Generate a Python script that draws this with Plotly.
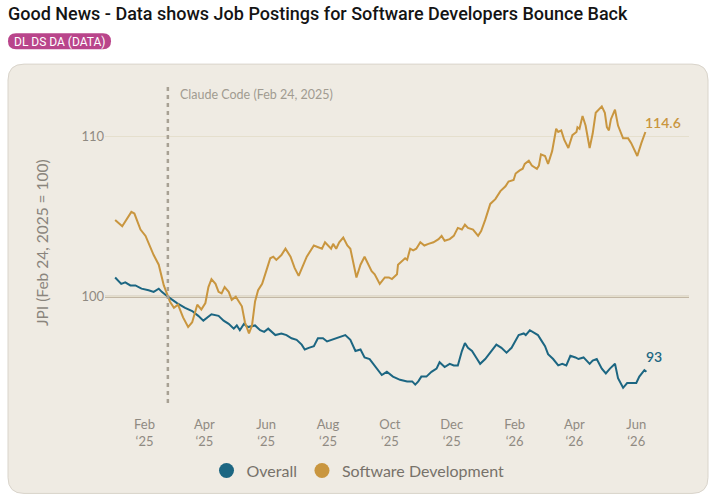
import plotly.graph_objects as go

# --- data (JPI, Feb 24 2025 = 100) ---
sw_dates = [
    "2025-01-03", "2025-01-10", "2025-01-19", "2025-01-22", "2025-01-28", "2025-02-02",
    "2025-02-10", "2025-02-15", "2025-02-20", "2025-02-24", "2025-02-26", "2025-03-02",
    "2025-03-06", "2025-03-11", "2025-03-16", "2025-03-20", "2025-03-25", "2025-03-29",
    "2025-04-02", "2025-04-05", "2025-04-08", "2025-04-12", "2025-04-15", "2025-04-18",
    "2025-04-21", "2025-04-25", "2025-04-28", "2025-05-02", "2025-05-05", "2025-05-08",
    "2025-05-11", "2025-05-15", "2025-05-18", "2025-05-21", "2025-05-24", "2025-05-28",
    "2025-06-02", "2025-06-05", "2025-06-08", "2025-06-11", "2025-06-16", "2025-06-20",
    "2025-06-25", "2025-06-29", "2025-07-03", "2025-07-09", "2025-07-11", "2025-07-18",
    "2025-07-23", "2025-07-26", "2025-07-29", "2025-08-01", "2025-08-04", "2025-08-06",
    "2025-08-09", "2025-08-12", "2025-08-16", "2025-08-20", "2025-08-23", "2025-08-29",
    "2025-09-02", "2025-09-06", "2025-09-10", "2025-09-13", "2025-09-16", "2025-09-21",
    "2025-09-26", "2025-09-30", "2025-10-03", "2025-10-08", "2025-10-09", "2025-10-13",
    "2025-10-16", "2025-10-18", "2025-10-21", "2025-10-24", "2025-10-27", "2025-10-31",
    "2025-11-04", "2025-11-08", "2025-11-13", "2025-11-18", "2025-11-21", "2025-11-24",
    "2025-11-29", "2025-12-03", "2025-12-07", "2025-12-11", "2025-12-14", "2025-12-17",
    "2025-12-22", "2025-12-27", "2025-12-30", "2026-01-03", "2026-01-04", "2026-01-08",
    "2026-01-13", "2026-01-18", "2026-01-23", "2026-01-26", "2026-01-31", "2026-02-02",
    "2026-02-06", "2026-02-09", "2026-02-11", "2026-02-15", "2026-02-18", "2026-02-23",
    "2026-02-25", "2026-02-27", "2026-03-03", "2026-03-06", "2026-03-10", "2026-03-14",
    "2026-03-16", "2026-03-19", "2026-03-22", "2026-03-26", "2026-03-30", "2026-04-03",
    "2026-04-04", "2026-04-06", "2026-04-09", "2026-04-12", "2026-04-16", "2026-04-19",
    "2026-04-22", "2026-04-28", "2026-05-01", "2026-05-03", "2026-05-05", "2026-05-07",
    "2026-05-11", "2026-05-14", "2026-05-19", "2026-05-24", "2026-05-27", "2026-06-02",
    "2026-06-06", "2026-06-10",
]
sw_values = [
    104.8, 104.4, 105.3, 105.2, 104.2, 103.8,
    102.6, 102.0, 100.7, 100.0, 99.7, 99.3,
    99.5, 98.7, 98.1, 98.4, 99.5, 99.2,
    99.6, 100.6, 101.1, 100.8, 100.3, 100.2,
    100.6, 100.3, 99.8, 100.0, 99.7, 99.4,
    98.4, 97.7, 98.2, 99.7, 100.4, 100.8,
    101.8, 102.4, 102.5, 102.3, 102.6, 103.0,
    102.5, 101.8, 101.3, 102.2, 102.5, 103.2,
    103.1, 103.0, 103.4, 103.2, 103.0, 103.3,
    103.0, 103.4, 103.7, 103.2, 103.0, 101.2,
    102.0, 102.5, 102.0, 101.6, 101.4, 100.8,
    101.2, 101.2, 101.1, 101.4, 102.0, 102.2,
    102.4, 102.3, 103.0, 102.9, 103.0, 103.4,
    103.2, 103.3, 103.4, 103.6, 103.8, 103.5,
    103.6, 103.8, 104.3, 104.2, 104.5, 104.3,
    104.2, 103.8, 104.1, 104.8, 105.0, 105.8,
    106.1, 106.6, 106.9, 107.2, 107.3, 107.7,
    107.9, 108.0, 108.3, 108.5, 108.2, 108.0,
    108.2, 108.9, 108.8, 108.3, 109.1, 110.5,
    110.3, 110.4, 109.8, 109.3, 110.1, 110.3,
    110.6, 110.5, 111.3, 110.7, 109.3, 110.2,
    111.5, 111.9, 111.5, 110.6, 110.4, 111.1,
    111.7, 110.7, 109.9, 109.9, 109.6, 108.8,
    109.6, 110.3,
]

all_dates = [
    "2025-01-03", "2025-01-06", "2025-01-09", "2025-01-13", "2025-01-18", "2025-01-23",
    "2025-01-29", "2025-02-05", "2025-02-10", "2025-02-15", "2025-02-18", "2025-02-24",
    "2025-02-26", "2025-03-05", "2025-03-13", "2025-03-20", "2025-03-26", "2025-03-31",
    "2025-04-08", "2025-04-15", "2025-04-20", "2025-04-25", "2025-04-30", "2025-05-03",
    "2025-05-06", "2025-05-10", "2025-05-14", "2025-05-21", "2025-05-26", "2025-05-30",
    "2025-06-03", "2025-06-10", "2025-06-16", "2025-06-21", "2025-06-26", "2025-07-01",
    "2025-07-06", "2025-07-09", "2025-07-13", "2025-07-18", "2025-07-22", "2025-07-27",
    "2025-07-31", "2025-08-05", "2025-08-10", "2025-08-18", "2025-08-23", "2025-08-28",
    "2025-09-02", "2025-09-06", "2025-09-11", "2025-09-16", "2025-09-23", "2025-09-28",
    "2025-10-04", "2025-10-11", "2025-10-18", "2025-10-23", "2025-10-26", "2025-10-29",
    "2025-11-01", "2025-11-06", "2025-11-11", "2025-11-16", "2025-11-19", "2025-11-24",
    "2025-11-29", "2025-12-03", "2025-12-07", "2025-12-11", "2025-12-14", "2025-12-17",
    "2025-12-21", "2025-12-26", "2025-12-29", "2026-01-03", "2026-01-09", "2026-01-14",
    "2026-01-19", "2026-01-24", "2026-01-29", "2026-02-05", "2026-02-10", "2026-02-12",
    "2026-02-16", "2026-02-19", "2026-02-24", "2026-02-27", "2026-03-03", "2026-03-06",
    "2026-03-11", "2026-03-16", "2026-03-20", "2026-03-24", "2026-03-28", "2026-04-02",
    "2026-04-05", "2026-04-10", "2026-04-13", "2026-04-16", "2026-04-19", "2026-04-23",
    "2026-04-28", "2026-05-02", "2026-05-06", "2026-05-11", "2026-05-14", "2026-05-19",
    "2026-05-23", "2026-05-27", "2026-06-01", "2026-06-04", "2026-06-09", "2026-06-11",
]
all_values = [
    101.2, 101.0, 100.8, 100.9, 100.7, 100.7,
    100.5, 100.4, 100.3, 100.5, 100.3, 100.0,
    99.9, 99.6, 99.3, 99.1, 98.8, 98.5,
    98.9, 98.8, 98.5, 98.3, 98.0, 98.2,
    97.9, 98.3, 98.1, 98.2, 97.9, 97.8,
    98.0, 97.6, 97.7, 97.6, 97.4, 97.3,
    97.0, 96.7, 96.8, 96.9, 97.4, 97.4,
    97.2, 97.3, 97.4, 97.6, 97.3, 96.6,
    96.7, 96.2, 96.1, 95.7, 95.1, 95.3,
    95.0, 94.8, 94.7, 94.7, 94.5, 94.7,
    95.0, 95.0, 95.3, 95.5, 95.9, 95.6,
    95.8, 95.7, 95.7, 96.6, 97.1, 96.8,
    96.6, 96.1, 95.8, 96.1, 96.6, 97.0,
    96.8, 96.5, 96.8, 97.6, 97.7, 97.6,
    97.9, 97.8, 97.6, 97.3, 96.9, 96.4,
    96.1, 95.7, 95.8, 95.7, 96.3, 96.2,
    96.1, 96.2, 96.0, 95.8, 96.0, 96.1,
    95.5, 95.2, 95.5, 95.8, 94.9, 94.3,
    94.6, 94.6, 94.6, 95.0, 95.4, 95.3,
]

series_names = ["Overall", "Software Development"]
end_labels = ["93", "114.6"]
tick_dates = ["2025-02-01", "2025-04-01", "2025-06-01", "2025-08-01", "2025-10-01",
              "2025-12-01", "2026-02-01", "2026-04-01", "2026-06-01"]
tick_text = ["Feb<br>‘25", "Apr<br>‘25", "Jun<br>‘25", "Aug<br>‘25", "Oct<br>‘25",
             "Dec<br>‘25", "Feb<br>‘26", "Apr<br>‘26", "Jun<br>‘26"]
y_ticks = [100, 110]
event_date = "2025-02-24"
event_label = "Claude Code (Feb 24, 2025)"

TEAL = "#1c6682"
GOLD = "#c9963f"
CARD = "#efebe3"
GREY = "#8f8a82"

W, H = 717, 500
ML, MR, MT, MB = 105, 28, 84, 95
PW, PH = W - ML - MR, H - MT - MB


def px(x):
    return (x - ML) / PW


def py(y):
    return (H - MB - y) / PH


def round_box(x0, y0, x1, y1, r):
    return " ".join([
        f"M{px(x0 + r)},{py(y0)}",
        f"L{px(x1 - r)},{py(y0)}",
        f"Q{px(x1)},{py(y0)} {px(x1)},{py(y0 + r)}",
        f"L{px(x1)},{py(y1 - r)}",
        f"Q{px(x1)},{py(y1)} {px(x1 - r)},{py(y1)}",
        f"L{px(x0 + r)},{py(y1)}",
        f"Q{px(x0)},{py(y1)} {px(x0)},{py(y1 - r)}",
        f"L{px(x0)},{py(y0 + r)}",
        f"Q{px(x0)},{py(y0)} {px(x0 + r)},{py(y0)}",
        "Z",
    ])


fig = go.Figure()

lines = [(all_dates, all_values, TEAL), (sw_dates, sw_values, GOLD)]
for (xs, ys, col), name in zip(lines, series_names):
    fig.add_trace(go.Scatter(x=xs, y=ys, mode="lines", name=name, showlegend=False,
                             line=dict(color=col, width=2)))
    # legend entry drawn as a round dot
    fig.add_trace(go.Scatter(x=[None], y=[None], mode="markers", name=name,
                             marker=dict(color=col, size=15, symbol="circle")))

for (xs, ys, col), lab, dy in zip(lines, end_labels, [15, 9]):
    fig.add_annotation(x=xs[-1], y=ys[-1], text=lab, showarrow=False, xanchor="left",
                       yanchor="middle", xshift=-2, yshift=dy,
                       font=dict(family="Lato", size=14, color=col, weight=600))

shapes = [
    dict(type="path", xref="paper", yref="paper", layer="below",
         path=round_box(8, 64, 708, 496, 16), fillcolor=CARD,
         line=dict(color="#d9d4cb", width=1)),
    dict(type="path", xref="paper", yref="paper", layer="below",
         path=round_box(8, 33, 111, 49, 8), fillcolor="#b9458b", line=dict(width=0)),
    dict(type="line", xref="paper", yref="y", x0=0, x1=1, y0=100, y1=100,
         layer="between", line=dict(color="#b3a690", width=2)),
    dict(type="line", xref="x", yref="paper", x0=event_date, x1=event_date, y0=0, y1=1,
         line=dict(color="#a8a194", width=2.5, dash="4px,4px")),
]
fig.update_layout(shapes=shapes)

fig.add_annotation(xref="paper", yref="paper", x=px(6), y=py(13), xanchor="left",
                   yanchor="middle", showarrow=False,
                   text="Good News - Data shows Job Postings for Software Developers Bounce Back",
                   font=dict(family="Roboto", size=18, color="#141414", weight=500))
fig.add_annotation(xref="paper", yref="paper", x=px(59.5), y=py(41.5), xanchor="center",
                   yanchor="middle", showarrow=False, text="DL DS DA (DATA)",
                   font=dict(family="Roboto", size=12, color="white"))
fig.add_annotation(x=event_date, yref="paper", y=py(95), xanchor="left", xshift=10,
                   yanchor="middle", showarrow=False, text=event_label,
                   font=dict(family="Lato", size=12.5, color="#a19b91"))
fig.add_annotation(xref="paper", yref="paper", x=px(42), y=py(244), textangle=-90,
                   xanchor="center", yanchor="middle",
                   showarrow=False, text="JPI (Feb 24, 2025 = 100)",
                   font=dict(family="Lato", size=15.5, color="#8a857d"))

fig.update_xaxes(type="date", range=["2024-12-24", "2026-07-23"], tickvals=tick_dates,
                 ticktext=tick_text, showgrid=False, zeroline=False, showline=False,
                 ticks="", ticklabelstandoff=12,
                 tickfont=dict(family="Lato", size=13, color=GREY))
fig.update_yaxes(range=[93.35, 113.3], tickvals=y_ticks, showgrid=True,
                 gridcolor="#e5dfcd", gridwidth=1, zeroline=False, showline=False,
                 ticks="", tickfont=dict(family="Lato", size=13, color=GREY))

fig.update_layout(
    width=W, height=H,
    margin=dict(l=ML, r=MR, t=MT, b=MB),
    paper_bgcolor="white", plot_bgcolor="rgba(0,0,0,0)",
    font=dict(family="Lato", color=GREY),
    legend=dict(orientation="h", x=px(358), xanchor="center", y=py(473), yanchor="middle",
                font=dict(family="Lato", size=16, color="#77726a"),
                bgcolor="rgba(0,0,0,0)", itemwidth=30, traceorder="normal"),
    hovermode=False,
)

# the page body has a default 8px margin; drop it so the figure sits at the window corner
fig.write_html("out.html", config={"displayModeBar": False},
               post_script="document.body.style.margin = '0';")
